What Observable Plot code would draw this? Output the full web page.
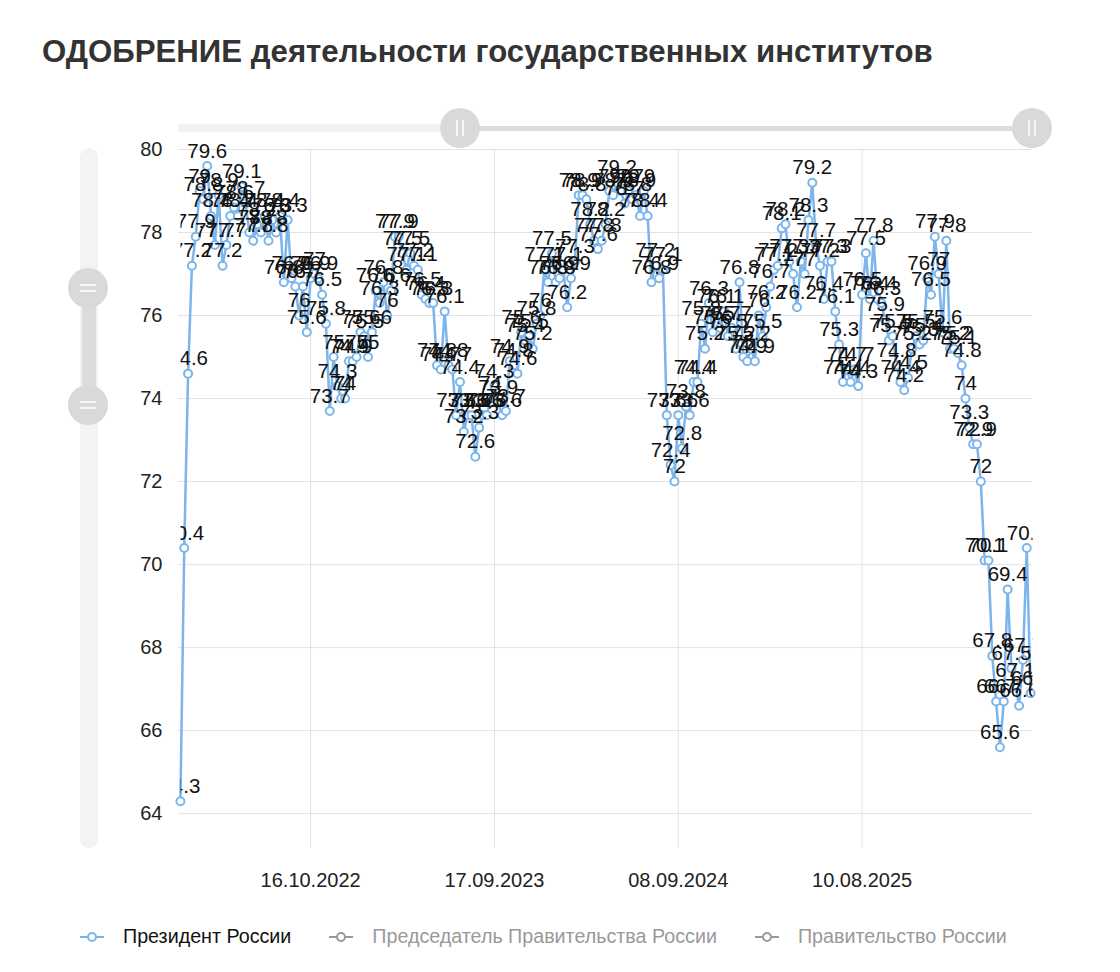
<!DOCTYPE html>
<html>
<head>
<meta charset="utf-8">
<script src="https://cdn.jsdelivr.net/npm/d3@7"></script>
<script src="https://cdn.jsdelivr.net/npm/@observablehq/plot@0.6"></script>
<style>
  html, body { margin: 0; padding: 0; background: #fff; }
  body { width: 1120px; height: 972px; position: relative; overflow: hidden; font-family: "Liberation Sans", sans-serif; }
  #title { position: absolute; left: 42px; top: 34px; font-family: "Liberation Sans", sans-serif; font-weight: bold; font-size: 31.2px; color: #333; white-space: nowrap; }
  #chart { position: absolute; left: 0; top: 0; }
  #ui { position: absolute; left: 0; top: 0; pointer-events: none; }
  #legend { position: absolute; left: 80px; top: 925px; display: flex; align-items: center; font-size: 19.7px; white-space: nowrap; }
  .item { display: flex; align-items: center; margin-right: 38px; }
  .item svg { margin-right: 19px; }
</style>
</head>
<body>
<div id="title">ОДОБРЕНИЕ деятельности государственных институтов</div>
<div id="chart"></div>
<svg id="ui" width="1120" height="972"></svg>
<div id="legend"></div>
<script>
// Weekly approval of the President of Russia (categories are successive weekly polls)
const values = [
  64.3, 70.4, 74.6, 77.2, 77.9, 79.0, 78.8, 79.6, 78.4, 77.7,
  78.9, 77.2, 77.7, 78.4, 78.6, 78.4, 79.1, 78.7, 78.0, 77.8,
  78.2, 78.0, 78.4, 77.8, 78.3, 78.0, 78.4, 76.8, 78.3, 76.9,
  76.7, 76.0, 76.7, 75.6, 76.9, 77.0, 76.9, 76.5, 75.8, 73.7,
  75.0, 74.3, 74.0, 74.0, 74.9, 74.9, 75.0, 75.6, 75.5, 75.0,
  75.6, 76.6, 76.3, 76.8, 76.0, 76.6, 77.9, 77.9, 77.5, 77.1,
  77.5, 77.2, 77.1, 76.5, 76.4, 76.3, 76.3, 74.8, 74.7, 76.1,
  74.8, 74.7, 73.6, 74.4, 73.2, 73.6, 73.6, 72.6, 73.3, 73.6,
  73.6, 74.0, 74.3, 73.9, 73.6, 73.7, 74.9, 74.8, 74.6, 75.6,
  75.4, 75.5, 75.2, 75.8, 76.0, 77.1, 76.8, 77.5, 76.8, 76.9,
  77.1, 76.2, 76.9, 77.3, 78.9, 78.9, 78.8, 78.2, 77.8, 77.6,
  77.8, 78.2, 79.0, 78.9, 79.2, 79.0, 78.7, 79.0, 78.8, 78.9,
  78.4, 79.0, 78.4, 76.8, 77.2, 76.9, 77.1, 73.6, 72.4, 72.0,
  73.6, 72.8, 73.8, 73.6, 74.4, 74.4, 75.8, 75.2, 76.3, 75.6,
  76.1, 75.7, 76.1, 75.5, 75.7, 75.2, 76.8, 75.0, 74.9, 75.2,
  74.9, 76.0, 75.5, 76.2, 76.7, 77.1, 77.2, 78.1, 78.2, 77.3,
  77.0, 76.2, 77.3, 77.0, 78.3, 79.2, 77.7, 77.2, 76.4, 77.3,
  77.3, 76.1, 75.3, 74.4, 74.7, 74.4, 74.7, 74.3, 76.5, 77.5,
  76.4, 77.8, 76.4, 76.3, 75.9, 75.4, 75.5, 74.8, 74.4, 74.2,
  74.5, 75.2, 75.5, 75.3, 75.4, 76.9, 76.5, 77.9, 77.0, 75.6,
  77.8, 75.2, 75.2, 75.1, 74.8, 74.0, 73.3, 72.9, 72.9, 72.0,
  70.1, 70.1, 67.8, 66.7, 65.6, 66.7, 69.4, 67.5, 67.1, 66.6,
  67.7, 70.4, 66.9
];
const tickIndex  = [34, 82, 130, 178];
const tickLabels = ["16.10.2022", "17.09.2023", "08.09.2024", "10.08.2025"];
const yTicks = [64, 66, 68, 70, 72, 74, 76, 78, 80];
const seriesNames = ["Президент России", "Председатель Правительства России", "Правительство России"];

const data = values.map((v, i) => ({i, v}));
const blue = "#7cb5ec";
const font = "'Liberation Sans', sans-serif";

const chart = Plot.plot({
  width: 1120,
  height: 900,
  marginLeft: 178,
  marginRight: 88,
  marginTop: 149,
  marginBottom: 52,
  style: {fontFamily: font, background: "transparent", overflow: "visible"},
  x: {domain: [-0.5, values.length - 0.5], axis: null},
  y: {domain: [63.16, 80], axis: null},
  marks: [
    Plot.ruleY(yTicks, {stroke: "#e3e3e3", strokeWidth: 1}),
    Plot.ruleX(tickIndex, {stroke: "#e3e3e3", strokeWidth: 1}),
    Plot.axisY({ticks: yTicks, tickSize: 0, tickPadding: 16, fontSize: 20, color: "#222", label: null}),
    Plot.axisX({ticks: tickIndex, tickSize: 0, tickPadding: 24, fontSize: 20, color: "#222", label: null,
      tickFormat: d => tickLabels[tickIndex.indexOf(d)]}),
    Plot.line(data, {x: "i", y: "v", stroke: blue, strokeWidth: 2.5, curve: "linear"}),
    Plot.dot(data, {x: "i", y: "v", r: 4, fill: "white", stroke: blue, strokeWidth: 2}),
    Plot.text(data, {x: "i", y: "v", text: d => String(d.v), dy: -15, fontSize: 20.5, fill: "#111", className: "dlabels"})
  ]
});
document.getElementById("chart").appendChild(chart);

// clip data labels horizontally to the plot area
const svgNS = "http://www.w3.org/2000/svg";
const defs = document.createElementNS(svgNS, "defs");
const cp = document.createElementNS(svgNS, "clipPath");
cp.setAttribute("id", "lblclip");
const cr = document.createElementNS(svgNS, "rect");
cr.setAttribute("x", 180); cr.setAttribute("y", 0);
cr.setAttribute("width", 852); cr.setAttribute("height", 900);
cp.appendChild(cr); defs.appendChild(cp); chart.appendChild(defs);
const lbl = chart.querySelector("g.dlabels") || chart.querySelector('g[aria-label="text"]');
if (lbl) lbl.setAttribute("clip-path", "url(#lblclip)");

// navigator / scrollbar decorations
const ui = document.getElementById("ui");
ui.innerHTML = `
  <rect x="80" y="148" width="18" height="700" rx="9" fill="#f3f3f3"/>
  <rect x="82" y="288" width="14" height="117" fill="#dcdcdc"/>
  <circle cx="88" cy="288" r="20" fill="#d9d9d9"/>
  <line x1="80" y1="285" x2="96" y2="285" stroke="#fff" stroke-width="1.5"/>
  <line x1="80" y1="291" x2="96" y2="291" stroke="#fff" stroke-width="1.5"/>
  <circle cx="88" cy="405" r="20" fill="#d9d9d9"/>
  <line x1="80" y1="402" x2="96" y2="402" stroke="#fff" stroke-width="1.5"/>
  <line x1="80" y1="408" x2="96" y2="408" stroke="#fff" stroke-width="1.5"/>
  <rect x="178" y="124" width="282" height="8" rx="4" fill="#f2f2f2"/>
  <rect x="460" y="126" width="572" height="5" fill="#dcdcdc"/>
  <circle cx="460" cy="128" r="20" fill="#d9d9d9"/>
  <line x1="457" y1="120" x2="457" y2="136" stroke="#fff" stroke-width="1.5"/>
  <line x1="463" y1="120" x2="463" y2="136" stroke="#fff" stroke-width="1.5"/>
  <circle cx="1032" cy="128" r="20" fill="#d9d9d9"/>
  <line x1="1029" y1="120" x2="1029" y2="136" stroke="#fff" stroke-width="1.5"/>
  <line x1="1035" y1="120" x2="1035" y2="136" stroke="#fff" stroke-width="1.5"/>
`;

// legend
const legend = document.getElementById("legend");
const legendColors = [blue, "#999", "#999"];
const textColors = ["#111", "#999", "#999"];
seriesNames.forEach((name, k) => {
  const it = document.createElement("div");
  it.className = "item";
  it.innerHTML = `<svg width="24" height="14"><line x1="0" y1="7" x2="24" y2="7" stroke="${legendColors[k]}" stroke-width="2"/><circle cx="12" cy="7" r="4" fill="#fff" stroke="${legendColors[k]}" stroke-width="2"/></svg><span style="color:${textColors[k]}">${name}</span>`;
  legend.appendChild(it);
});
</script>
</body>
</html>
